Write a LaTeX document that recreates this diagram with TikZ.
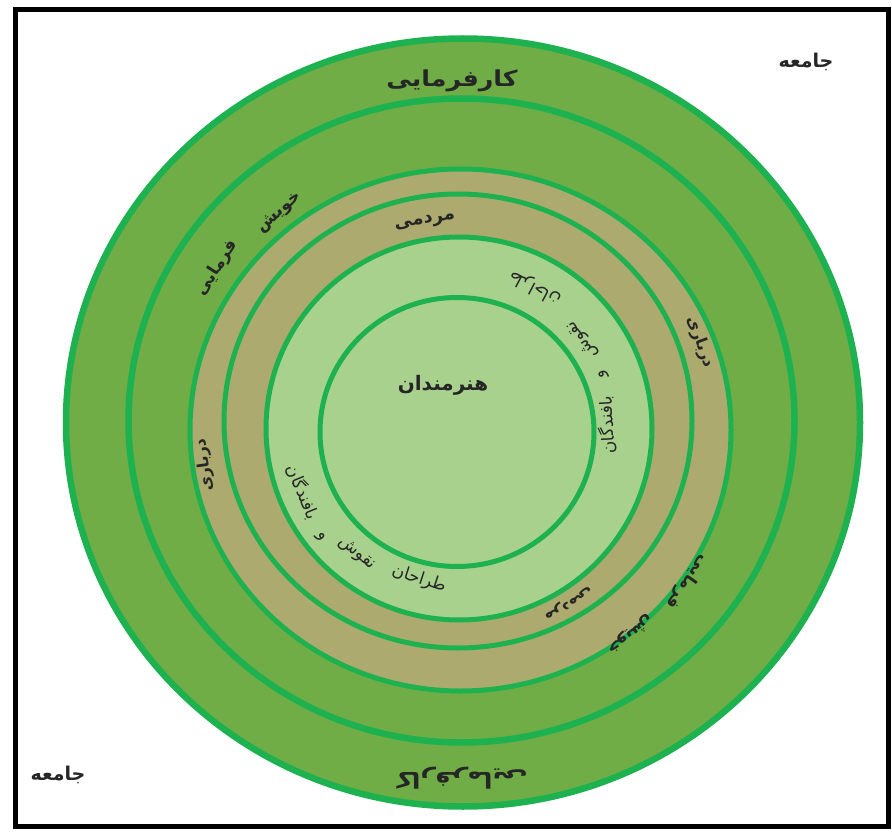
\documentclass[tikz,border=0pt]{standalone}
\usepackage{fontspec}
\TeXXeTstate=1
\newfontfamily\arabicfont[Script=Arabic]{DejaVu Sans}
\newcommand\artext[1]{\arabicfont\beginR #1\endR}
\definecolor{ringline}{HTML}{1DB24F}
\definecolor{bandgreen}{HTML}{70AD47}
\definecolor{bandtan}{HTML}{ADAA6F}
\definecolor{bandlight}{HTML}{A9D18E}
\tikzset{
  lbl/.style={inner sep=0pt, text=black!85},
  ring/.style={draw=ringline, line width=5pt},
  ringthick/.style={draw=ringline, line width=6.5pt},
}
\begin{document}
\begin{tikzpicture}[x=1pt,y=-1pt]
\useasboundingbox (0,0) rectangle (892,837);
\fill[white] (0,0) rectangle (892,837);
% bands
\fill[bandgreen] (463,422.5) ellipse [x radius=397pt, y radius=384pt];
\fill[bandgreen] (461.5,420.5) ellipse [x radius=333pt, y radius=322pt];
\fill[bandtan] (460.5,430) ellipse [x radius=270.5pt, y radius=261pt];
\fill[bandtan] (458,421) ellipse [x radius=234pt, y radius=227pt];
\fill[bandlight] (459,428.5) ellipse [x radius=193pt, y radius=191.5pt];
\fill[bandlight] (457,432) ellipse [x radius=137pt, y radius=134.5pt];
% ring lines
\draw[ringthick] (463,422.5) ellipse [x radius=397pt, y radius=384pt];
\draw[ringthick] (461.5,420.5) ellipse [x radius=333pt, y radius=322pt];
\draw[ring] (460.5,430) ellipse [x radius=270.5pt, y radius=261pt];
\draw[ring] (458,421) ellipse [x radius=234pt, y radius=227pt];
\draw[ring] (459,428.5) ellipse [x radius=193pt, y radius=191.5pt];
\draw[ring] (457,432) ellipse [x radius=137pt, y radius=134.5pt];
% frame
\draw[line width=5pt] (15,10) rectangle (888,826);
% labels
\node[lbl, font=\fontsize{19}{22}\selectfont\bfseries] (jamA) at (806,62) {\artext{جامعه}};
\node[lbl, font=\fontsize{19}{22}\selectfont\bfseries] (jamB) at (58,775) {\artext{جامعه}};
\node[lbl, font=\fontsize{22}{25}\selectfont\bfseries, xscale=1.15] (karA) at (452,81) {\artext{کارفرمایی}};
\node[lbl, font=\fontsize{22}{25}\selectfont\bfseries, xscale=1.15, rotate=180] (karB) at (462,778) {\artext{کارفرمایی}};
\node[lbl, font=\fontsize{17}{20}\selectfont\bfseries, rotate=40] (khA1) at (280,213) {\artext{خویش}};
\node[lbl, font=\fontsize{17}{20}\selectfont\bfseries, rotate=57] (khA2) at (217,268) {\artext{فرمایی}};
\node[lbl, font=\fontsize{17}{20}\selectfont\bfseries, rotate=-141.6] (khB1) at (630,634) {\artext{خویش}};
\node[lbl, font=\fontsize{17}{20}\selectfont\bfseries, rotate=-125.6] (khB2) at (688,582) {\artext{فرمایی}};
\node[lbl, font=\fontsize{18}{21}\selectfont\bfseries, rotate=9] (marA) at (425,222) {\artext{مردمی}};
\node[lbl, font=\fontsize{16}{19}\selectfont\bfseries, rotate=-148] (marB) at (568,603) {\artext{مردمی}};
\node[lbl, font=\fontsize{16}{19}\selectfont\bfseries, rotate=-70] (darA) at (700,342) {\artext{درباری}};
\node[lbl, font=\fontsize{16}{19}\selectfont\bfseries, rotate=98] (darB) at (205,465) {\artext{درباری}};
\node[lbl, font=\fontsize{20}{23}\selectfont\bfseries] (hon) at (443,385) {\artext{هنرمندان}};
% band 5 text, left
\node[lbl, font=\fontsize{17}{20}\selectfont, rotate=-18] (tA1) at (419,579) {\artext{طراحان}};
\node[lbl, font=\fontsize{17}{20}\selectfont, rotate=-40] (tA2) at (357,554) {\artext{نقوش}};
\node[lbl, font=\fontsize{17}{20}\selectfont, rotate=-52] (tA3) at (321,537) {\artext{و}};
\node[lbl, font=\fontsize{17}{20}\selectfont, rotate=-68] (tA4) at (303,492) {\artext{بافندگان}};
% band 5 text, right
\node[lbl, font=\fontsize{17}{20}\selectfont, rotate=152] (tB1) at (535,288) {\artext{طراحان}};
\node[lbl, font=\fontsize{17}{20}\selectfont, rotate=125] (tB2) at (583,340) {\artext{نقوش}};
\node[lbl, font=\fontsize{17}{20}\selectfont, rotate=110] (tB3) at (604,374) {\artext{و}};
\node[lbl, font=\fontsize{17}{20}\selectfont, rotate=93] (tB4) at (607,425) {\artext{بافندگان}};
\end{tikzpicture}
\end{document}
